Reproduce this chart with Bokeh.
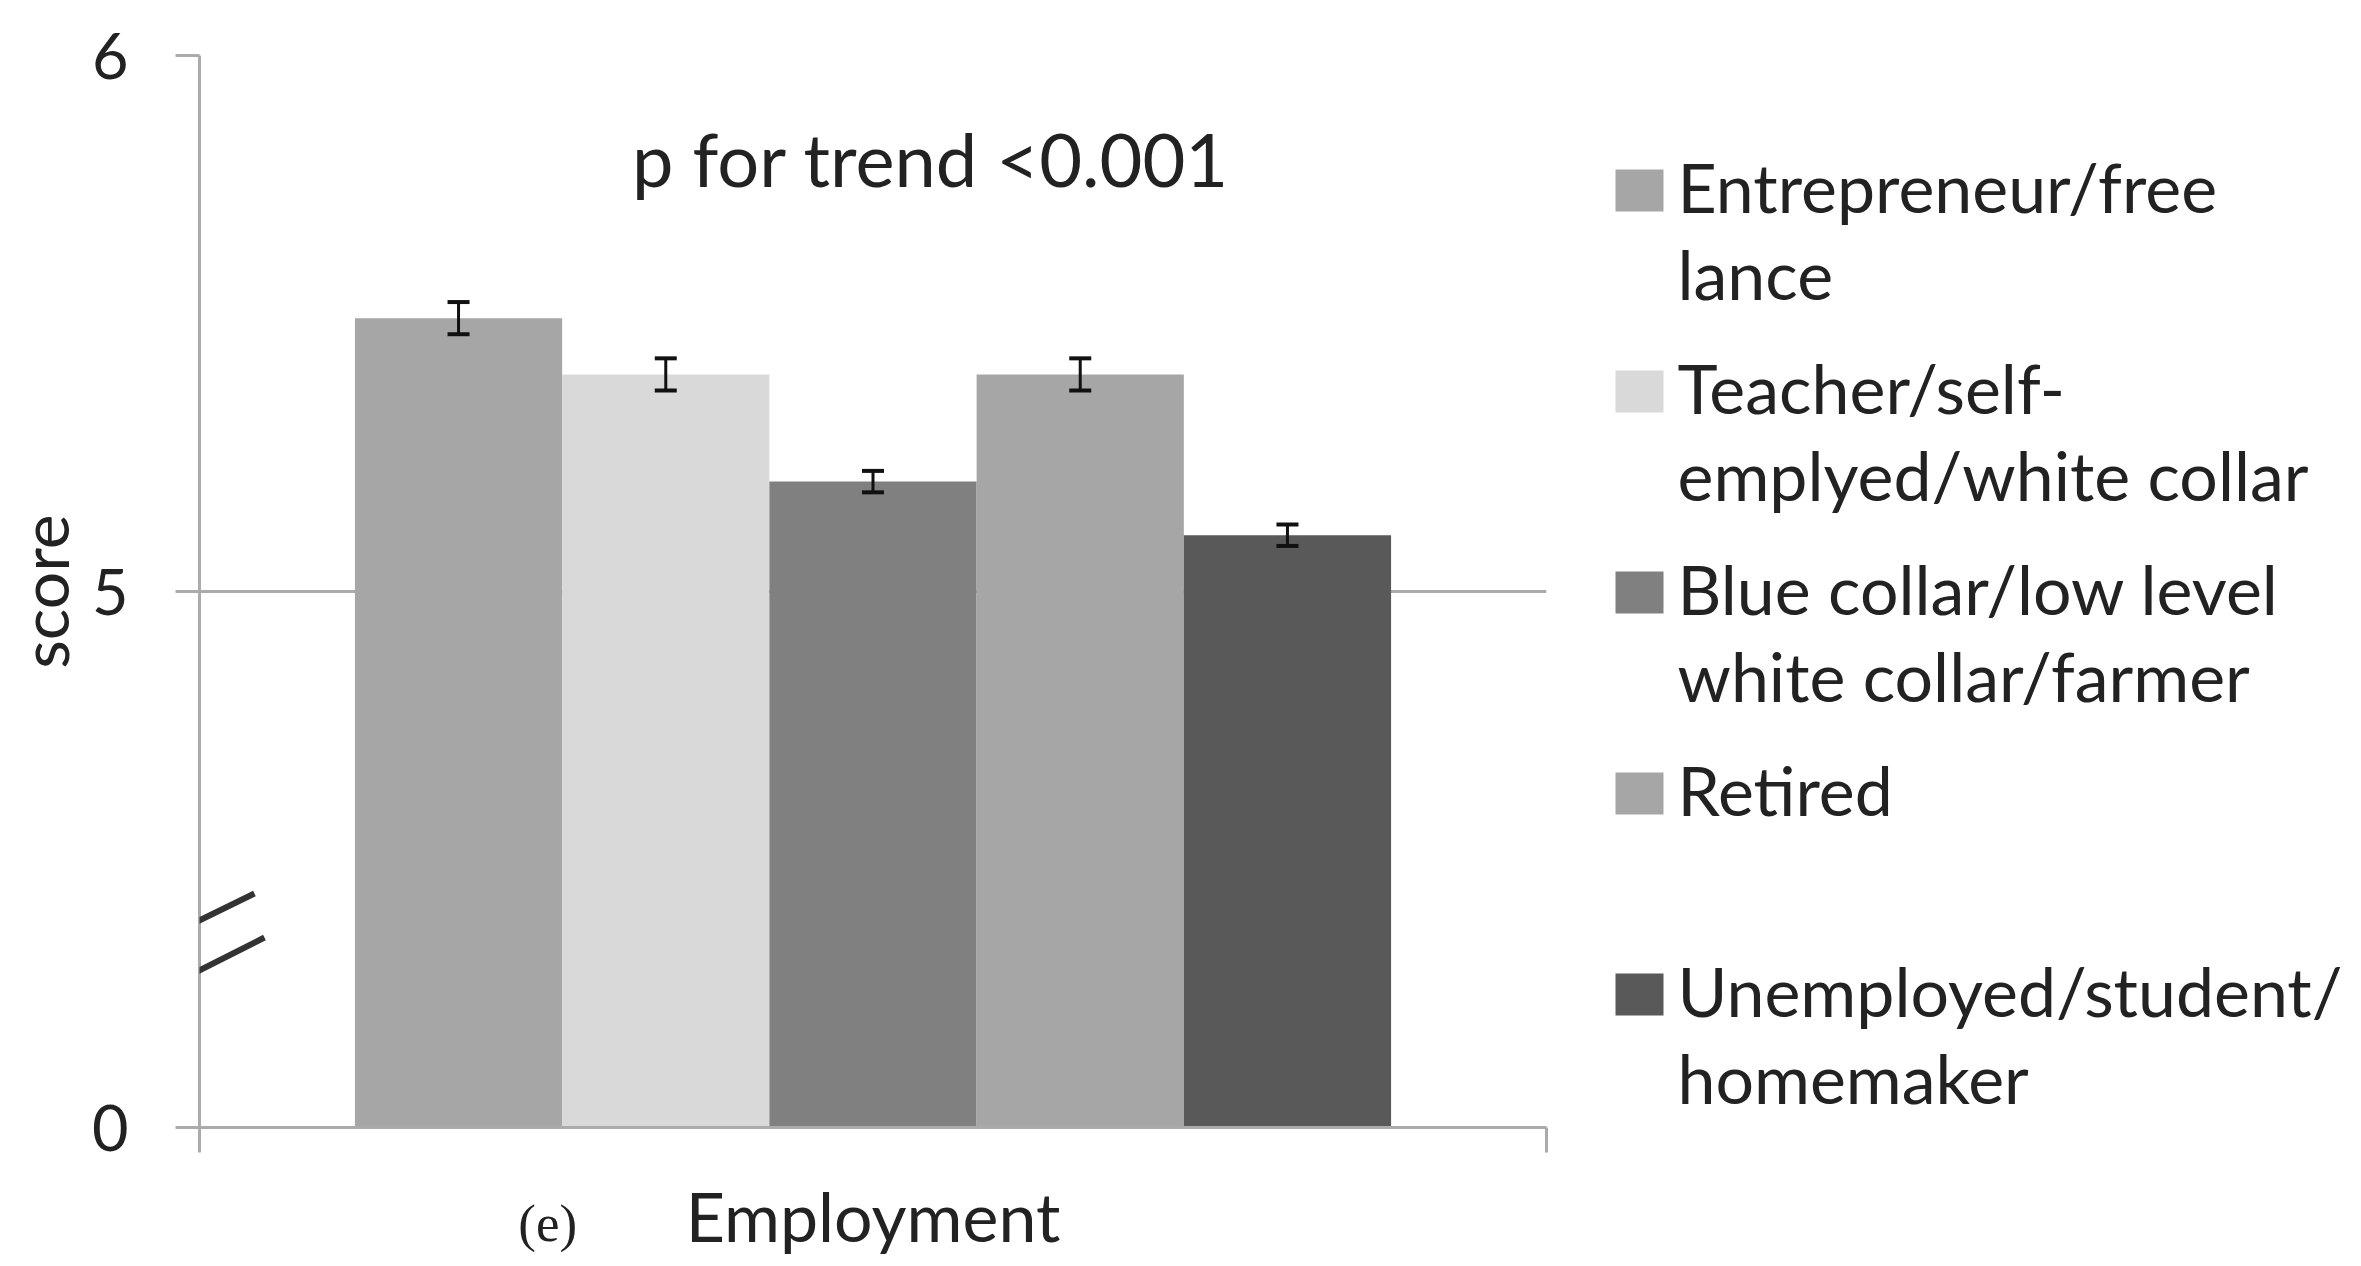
from bokeh.plotting import figure
from bokeh.layouts import row
from bokeh.models import (ColumnDataSource, Range1d, FixedTicker, Whisker, TeeHead,
                          Label, Arrow)
from bokeh.core.properties import value
from bokeh.embed import file_html
from bokeh.resources import INLINE

# ---------------- data ----------------
categories = [
    "Entrepreneur/free\nlance",
    "Teacher/self-\nemplyed/white collar",
    "Blue collar/low level\nwhite collar/farmer",
    "Retired",
    "Unemployed/student/\nhomemaker",
]
scores = [5.51, 5.405, 5.205, 5.405, 5.105]
errors = [0.03, 0.03, 0.02, 0.03, 0.02]
colors = ["#a6a6a6", "#d9d9d9", "#808080", "#a6a6a6", "#595959"]
y_ticks = [5, 6]
y_tick_zero_label = "0"
annotation_text = "p for trend <0.001"
panel_tag = "(e)"
x_title = "Employment"
y_title = "score"

# ---------------- layout (pixels) ----------------
FIG_W, FIG_H = 2345, 1258
CHART_W = 1560                  # chart figure width; the legend figure fills the rest
LEFT, TOP = 198, 55             # frame left / top
PLOT_RIGHT, PLOT_BOTTOM = 1546, 1127
FONT = "Lato"
TEXT_COLOR = "#222222"
AXIS_COLOR = "#ababab"

# broken axis: display position used for "0"
Y_ZERO = 4.0
Y_TOP = 6.0
X_START = -0.25
X_END = len(categories) + 1.25
PANEL_TAG_X = 1.43

px_per_x = (PLOT_RIGHT - LEFT) / (X_END - X_START)
px_per_y = (PLOT_BOTTOM - TOP) / (Y_TOP - Y_ZERO)


def sx(px):
    return X_START + (px - LEFT) / px_per_x


def sy(py):
    return Y_TOP - (py - TOP) / px_per_y


xs = list(range(1, len(categories) + 1))

p = figure(width=CHART_W, height=FIG_H, output_backend="svg", toolbar_location=None,
           x_range=Range1d(X_START, X_END),
           y_range=Range1d(Y_ZERO, Y_TOP),
           min_border_left=LEFT, min_border_right=CHART_W - PLOT_RIGHT,
           min_border_top=TOP, min_border_bottom=FIG_H - PLOT_BOTTOM)
p.outline_line_color = None
p.background_fill_color = "white"
p.border_fill_color = "white"

# grid
p.xgrid.visible = False
p.ygrid.ticker = FixedTicker(ticks=y_ticks)
p.ygrid.grid_line_color = AXIS_COLOR
p.ygrid.grid_line_width = 3

# bars
for x, s, c in zip(xs, scores, colors):
    p.vbar(x=[x], top=[s], bottom=Y_ZERO, width=1.0, fill_color=c, line_color=None)

# error bars
src = ColumnDataSource(dict(x=xs, upper=[s + e for s, e in zip(scores, errors)],
                            lower=[s - e for s, e in zip(scores, errors)]))
w = Whisker(base="x", upper="upper", lower="lower", source=src, level="overlay",
            line_color="#111111", line_width=3,
            upper_head=TeeHead(size=22, line_width=4, line_color="#111111"),
            lower_head=TeeHead(size=22, line_width=4, line_color="#111111"))
p.add_layout(w)

# y axis
yax = p.yaxis[0]
yax.ticker = FixedTicker(ticks=[Y_ZERO] + y_ticks)
yax.major_label_overrides = {int(Y_ZERO): y_tick_zero_label}
yax.axis_line_color = AXIS_COLOR
yax.axis_line_width = 3
yax.major_tick_line_color = AXIS_COLOR
yax.major_tick_line_width = 3
yax.major_tick_out = 24
yax.major_tick_in = 0
yax.minor_tick_line_color = None
yax.major_label_standoff = 47
yax.major_label_text_font = FONT
yax.major_label_text_font_size = "63px"
yax.major_label_text_color = TEXT_COLOR
yax.axis_label = y_title
yax.axis_label_text_font = FONT
yax.axis_label_text_font_size = "66px"
yax.axis_label_text_font_style = "normal"
yax.axis_label_text_color = TEXT_COLOR
yax.axis_label_standoff = 6

# x axis: end tick marks (minor ticks) and the panel tag as the only label
xax = p.xaxis[0]
xax.ticker = FixedTicker(ticks=[PANEL_TAG_X], minor_ticks=[X_START, X_END])
xax.major_label_overrides = {PANEL_TAG_X: panel_tag}
xax.axis_line_color = AXIS_COLOR
xax.axis_line_width = 3
xax.major_tick_line_color = None
xax.major_tick_out = 25
xax.major_tick_in = 0
xax.minor_tick_line_color = AXIS_COLOR
xax.minor_tick_line_width = 3
xax.minor_tick_out = 25
xax.minor_tick_in = 0
xax.major_label_standoff = 41
xax.major_label_text_font = "Liberation Serif"
xax.major_label_text_font_size = "53px"
xax.major_label_text_color = TEXT_COLOR
xax.axis_label = x_title
xax.axis_label_text_font = FONT
xax.axis_label_text_font_size = "68px"
xax.axis_label_text_font_style = "normal"
xax.axis_label_text_color = TEXT_COLOR
xax.axis_label_standoff = -80

# axis break marks (decoration)
for (ax0, ay0, ax1, ay1) in [(163, 937, 253, 893), (174, 982, 263, 937)]:
    p.add_layout(Arrow(x_start=sx(ax0), y_start=sy(ay0), x_end=sx(ax1), y_end=sy(ay1),
                       end=None, line_color="#333333", line_width=6))

# annotation text
p.add_layout(Label(x=sx(930), y=sy(158), text=annotation_text, text_align="center",
                   text_baseline="middle", text_font=FONT, text_font_size="74px",
                   text_color=TEXT_COLOR))

# ---------------- legend panel (its own figure, page-pixel coordinates) ----------------
leg = figure(width=FIG_W - CHART_W, height=FIG_H, output_backend="svg",
             toolbar_location=None, x_axis_type=None, y_axis_type=None,
             x_range=Range1d(CHART_W, FIG_W), y_range=Range1d(PLOT_BOTTOM, TOP),
             min_border_left=0, min_border_right=0,
             min_border_top=TOP, min_border_bottom=FIG_H - PLOT_BOTTOM)
leg.outline_line_color = None
leg.background_fill_color = "white"
leg.border_fill_color = "white"
leg.grid.visible = False

LEG_FONT_PX = 68
baselines = [213 + 201 * i for i in range(len(categories))]
leg.rect(x=[1639] * len(categories), y=[b - 23 for b in baselines],
         width=48, height=42, width_units="screen", height_units="screen",
         fill_color=colors, line_color=None)
leg.text(x=[1677] * len(categories), y=[b - 0.988 * LEG_FONT_PX for b in baselines],
         text=categories, text_font=value(FONT), text_font_size=f"{LEG_FONT_PX}px",
         text_color=TEXT_COLOR, text_baseline="top", text_align="left",
         text_line_height=1.07)

layout = row(p, leg, spacing=0)
open("out.html", "w").write(file_html(layout, INLINE))
